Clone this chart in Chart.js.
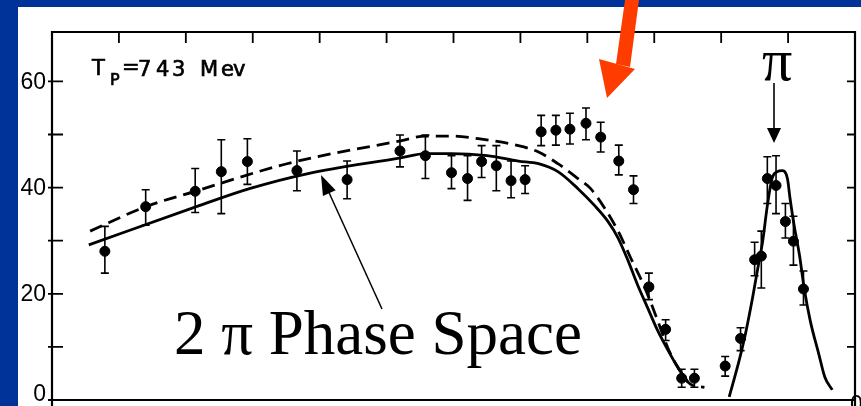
<!DOCTYPE html>
<html><head><meta charset="utf-8">
<script src="https://cdn.jsdelivr.net/npm/chart.js@4.4.1/dist/chart.umd.min.js"></script>
<style>html,body{margin:0;padding:0;background:#003399;overflow:hidden}canvas{display:block}</style>
</head><body>
<canvas id="c" width="861" height="406"></canvas>
<script>
// ---- data ----
const pointX = [0.79,1.40,2.14,2.53,2.92,3.66,4.41,5.20,5.58,5.97,6.21,6.42,6.64,6.86,7.07,7.31,7.53,7.74,7.98,8.20,8.47,8.69,8.92,9.17,9.41,9.60,10.06,10.29,10.50,10.60,10.69,10.82,10.96,11.08,11.23];
const pointY = [28.0,36.4,39.3,43.0,44.9,43.2,41.5,46.9,46.0,42.8,41.7,44.9,44.1,41.3,41.5,50.5,50.8,51.0,52.1,49.5,45.0,39.6,21.3,13.3,4.1,4.1,6.4,11.6,26.4,27.1,41.7,40.4,33.6,29.9,20.9];
const errHigh = [32.7,39.6,43.6,49.0,49.2,46.9,45.0,49.9,49.9,46.0,46.0,47.9,47.9,45.0,44.1,53.6,53.6,54.0,55.0,52.3,48.0,42.2,23.9,15.1,5.8,5.8,8.2,13.6,29.7,31.8,45.8,46.0,37.0,34.6,24.3];
const errLow  = [23.9,32.9,35.3,35.1,40.6,39.4,37.9,43.9,41.7,39.8,37.6,41.9,39.4,38.1,38.9,47.9,48.0,48.2,49.0,46.7,42.4,37.0,18.9,11.2,2.4,2.4,4.5,9.3,23.4,21.1,37.0,35.1,30.5,25.4,17.9];

const solidX = [0.55,2.20,2.95,3.81,5.21,5.58,5.97,6.50,6.97,7.27,7.56,7.86,8.11,8.31,8.46,8.61,8.75,8.90,9.05,9.20,9.35,9.50];
const solidY = [29.2,36.6,39.8,42.6,45.6,46.4,46.4,46.0,45.0,44.5,43.0,39.8,36.6,33.6,30.5,26.2,21.7,17.4,13.1,9.5,6.2,3.4];

const dashX = [0.57,1.40,2.14,3.39,3.96,5.21,5.58,5.97,6.37,6.97,7.27,7.56,7.86,8.05,8.26,8.46,8.65,8.86,9.05,9.20,9.35,9.54,9.75];
const dashY = [31.8,36.4,39.3,44.1,45.8,48.8,49.7,49.7,49.2,47.9,46.7,44.5,41.7,39.8,36.1,31.8,26.7,21.1,15.0,9.9,6.2,3.0,2.4];

const peakX = [10.12,10.27,10.36,10.47,10.54,10.62,10.69,10.76,10.84,10.91,10.99,11.03,11.09,11.17,11.24,11.33,11.46,11.55,11.66];
const peakY = [0.6,7.5,12.3,19.3,24.3,29.9,36.6,41.7,43.0,43.2,41.7,37.9,32.9,27.3,21.1,15.0,8.6,4.3,1.9];

const yTickValues = [0,10,20,30,40,50,60];
const yLabelValues = [0,20,40,60];
const xTickValues = [1,2,3,4,5,6,7,8,9,10,11];

const toXY = (xs, ys) => xs.map((x, i) => ({x: x, y: ys[i]}));

const decor = {
  id: 'decor',
  beforeDraw(chart) {
    const ctx = chart.ctx;
    ctx.save();
    ctx.fillStyle = '#ffffff';
    ctx.fillRect(18, 7, chart.width - 18, chart.height - 7);
    ctx.restore();
  },
  beforeDatasetsDraw(chart) {
    const ctx = chart.ctx, xs = chart.scales.x, ys = chart.scales.y;
    ctx.save();
    ctx.strokeStyle = '#000';
    ctx.lineWidth = 1.6;
    pointX.forEach((x, i) => {
      const px = xs.getPixelForValue(x);
      const ph = ys.getPixelForValue(errHigh[i]);
      const pl = ys.getPixelForValue(errLow[i]);
      ctx.beginPath();
      ctx.moveTo(px, ph); ctx.lineTo(px, pl);
      ctx.moveTo(px - 4, ph); ctx.lineTo(px + 4, ph);
      ctx.moveTo(px - 4, pl); ctx.lineTo(px + 4, pl);
      ctx.stroke();
    });
    ctx.restore();
  },
  afterDraw(chart) {
    const ctx = chart.ctx, xs = chart.scales.x, ys = chart.scales.y;
    const a = chart.chartArea;
    ctx.save();
    // frame
    ctx.strokeStyle = '#000';
    ctx.lineWidth = 2.2;
    ctx.beginPath();
    ctx.moveTo(a.left, chart.height); ctx.lineTo(a.left, a.top);
    ctx.lineTo(a.right, a.top); ctx.lineTo(a.right, chart.height);
    ctx.moveTo(a.left, a.bottom); ctx.lineTo(a.right, a.bottom);
    ctx.stroke();
    // inward ticks
    ctx.lineWidth = 1.8;
    ctx.beginPath();
    yTickValues.forEach(v => {
      const py = ys.getPixelForValue(v);
      ctx.moveTo(a.left - 4, py); ctx.lineTo(a.left + 11, py);
      ctx.moveTo(a.right - 8, py); ctx.lineTo(a.right, py);
    });
    xTickValues.forEach(v => {
      const px = xs.getPixelForValue(v);
      ctx.moveTo(px, a.top); ctx.lineTo(px, a.top + 11);
    });
    ctx.stroke();

    // y tick labels
    ctx.fillStyle = '#000';
    ctx.font = '23px "Liberation Sans", Arial, sans-serif';
    ctx.textAlign = 'right';
    ctx.textBaseline = 'middle';
    yLabelValues.forEach(v => {
      const py = ys.getPixelForValue(v);
      ctx.fillText(String(v), a.left - 6, v === 0 ? py - 5 : py + 1);
    });
    // clipped right-hand label at the bottom corner
    ctx.textAlign = 'left';
    ctx.textBaseline = 'top';
    ctx.fillText('0', a.right - 5, ys.getPixelForValue(0) - 6);

    // T_P = 743 Mev
    ctx.textAlign = 'left';
    ctx.strokeStyle = '#000';
    ctx.lineWidth = 0.7;
    ctx.textBaseline = 'alphabetic';
    const put = (t, x, y, f) => { ctx.font = f; ctx.fillText(t, x, y); ctx.strokeText(t, x, y); };
    const big = '21px "DejaVu Sans"';
    put('T', 92, 75, big);
    put('P', 110, 85, '16px "DejaVu Sans"');
    put('=', 122, 74, big);
    put('7', 138, 76, big);
    put('4', 156, 76, big);
    put('3', 172, 76, big);
    put('M', 200, 76, big);
    put('e', 221, 76, big);
    put('v', 233, 76, big);

    // pi label and arrow at the peak
    ctx.font = '60px "Liberation Serif"';
    ctx.fillText('\u03C0', 762, 80);
    ctx.lineWidth = 1.6;
    ctx.beginPath();
    ctx.moveTo(774, 83); ctx.lineTo(774, 130);
    ctx.stroke();
    ctx.beginPath();
    ctx.moveTo(767, 128); ctx.lineTo(781, 128); ctx.lineTo(774, 143);
    ctx.closePath(); ctx.fill();

    // 2 pi Phase Space label
    ctx.font = '63px "Liberation Serif"';
    ctx.fillText('2 \u03C0 Phase Space', 174, 354);
    // pointer line
    const tx = 321, ty = 175, sx = 382, sy = 309;
    const dx = tx - sx, dy = ty - sy, L = Math.hypot(dx, dy);
    const ux = dx / L, uy = dy / L;
    ctx.lineWidth = 1.5;
    ctx.beginPath();
    ctx.moveTo(sx, sy); ctx.lineTo(tx - ux * 14, ty - uy * 14);
    ctx.stroke();
    ctx.beginPath();
    ctx.moveTo(tx, ty);
    ctx.lineTo(tx - ux * 20 - uy * 7, ty - uy * 20 + ux * 7);
    ctx.lineTo(tx - ux * 20 + uy * 7, ty - uy * 20 - ux * 7);
    ctx.closePath(); ctx.fill();

    // red arrow
    ctx.fillStyle = '#ff3c00';
    ctx.beginPath();
    ctx.moveTo(625, 0); ctx.lineTo(639, 0); ctx.lineTo(630, 67); ctx.lineTo(616, 64);
    ctx.closePath(); ctx.fill();
    ctx.beginPath();
    ctx.moveTo(599, 59); ctx.lineTo(635, 69); ctx.lineTo(607, 98);
    ctx.closePath(); ctx.fill();
    ctx.restore();
  }
};

new Chart(document.getElementById('c'), {
  type: 'scatter',
  data: {
    datasets: [
      { type: 'line', data: toXY(solidX, solidY), borderColor: '#000', borderWidth: 2.8, pointRadius: 0, cubicInterpolationMode: 'monotone', fill: false },
      { type: 'line', data: toXY(dashX, dashY), borderColor: '#000', borderWidth: 2.8, borderDash: [13, 7], pointRadius: 0, cubicInterpolationMode: 'monotone', fill: false },
      { type: 'line', data: toXY(peakX, peakY), borderColor: '#000', borderWidth: 2.8, pointRadius: 0, cubicInterpolationMode: 'monotone', fill: false },
      { type: 'scatter', data: toXY(pointX, pointY), backgroundColor: '#000', borderColor: '#000', pointRadius: 5, pointHoverRadius: 5 }
    ]
  },
  options: {
    responsive: false,
    animation: false,
    devicePixelRatio: 1,
    layout: { padding: { top: 32, right: 3, bottom: 3, left: 0 } },
    plugins: { legend: { display: false }, tooltip: { enabled: false } },
    scales: {
      x: { type: 'linear', min: 0, max: 12, display: false },
      y: {
        type: 'linear', min: 0, max: 69.3,
        afterFit(s) { s.width = 52; },
        grid: { display: false },
        border: { display: false },
        ticks: { display: false, stepSize: 10 }
      }
    }
  },
  plugins: [decor]
});
</script>
</body></html>
